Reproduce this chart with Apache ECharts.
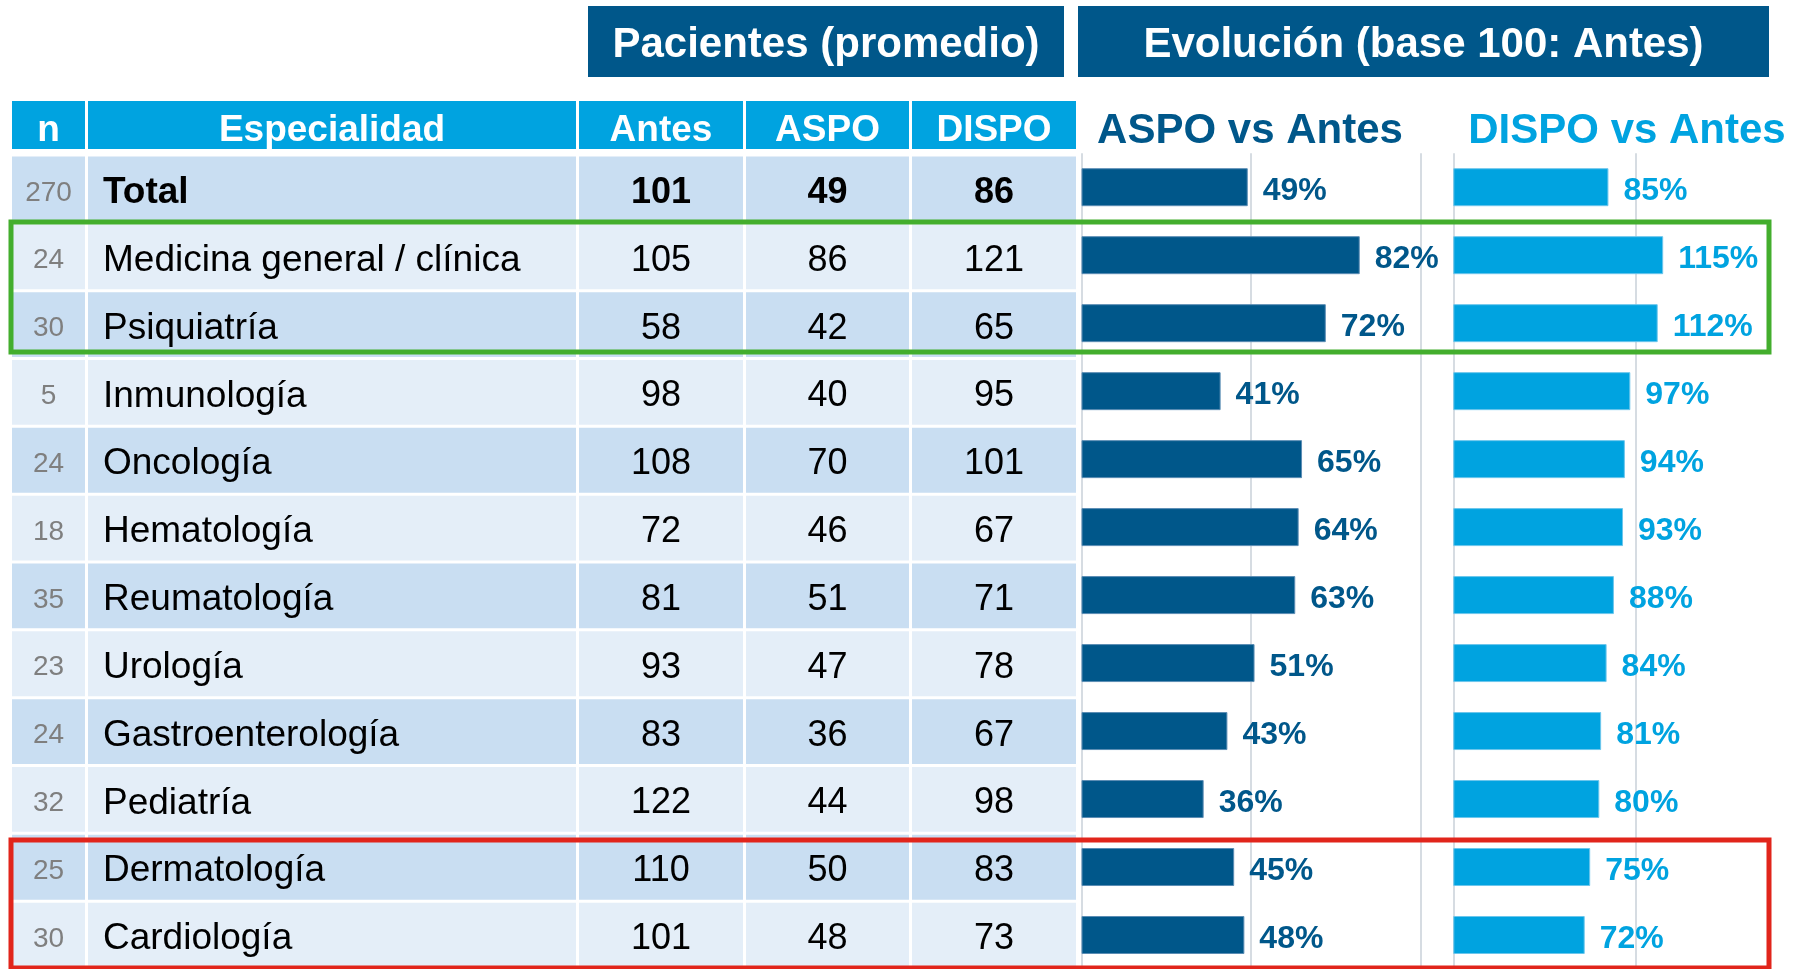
<!DOCTYPE html>
<html>
<head>
<meta charset="utf-8">
<script src="https://cdn.jsdelivr.net/npm/echarts@6.0.0/dist/echarts.min.js"></script>
<style>
html,body{margin:0;padding:0;background:#ffffff;}
#chart{width:1793px;height:969px;}
</style>
</head>
<body>
<div id="chart"></div>
<script>
// ---------- DATA ----------
const specialties = ['Total','Medicina general / clínica','Psiquiatría','Inmunología','Oncología','Hematología','Reumatología','Urología','Gastroenterología','Pediatría','Dermatología','Cardiología'];
const nValues = [270,24,30,5,24,18,35,23,24,32,25,30];
const antes = [101,105,58,98,108,72,81,93,83,122,110,101];
const aspo = [49,86,42,40,70,46,51,47,36,44,50,48];
const dispo = [86,121,65,95,101,67,71,78,67,98,83,73];
const aspoVsAntes = [49,82,72,41,65,64,63,51,43,36,45,48];
const dispoVsAntes = [85,115,112,97,94,93,88,84,81,80,75,72];
const tableHeaders = ['n','Especialidad','Antes','ASPO','DISPO'];
const groupTitles = ['Pacientes (promedio)','Evolución (base 100: Antes)'];
const barTitles = ['ASPO vs Antes','DISPO vs Antes'];

// ---------- LAYOUT / STYLE ----------
const FONT = '"Liberation Sans", Arial, sans-serif';
const COLS = [[12,85],[88,576],[579,743],[746,909],[912,1076]];
const DARK = '#00578A';
const LIGHT = '#00A3E0';
const ROW_DARK = '#C9DEF2';
const ROW_LIGHT = '#E4EEF8';
const GRID_LINE = '#D6DCE2';
const TEXT_DY = 4;

const chart = echarts.init(document.getElementById('chart'), null, {renderer:'canvas'});

function txt(text, x, y, opts){
  return {type:'text', z:10, style:Object.assign({text:text, x:x, y:y, align:'center', verticalAlign:'middle', fontFamily:FONT, fontSize:36, fill:'#000'}, opts||{})};
}

function renderRow(params, api){
  const i = api.value(1);
  const yc = api.coord([0, i])[1];
  const band = api.size([0, 1])[1];
  const h = band - 3;
  const top = yc - h / 2;
  const bg = i % 2 === 0 ? ROW_DARK : ROW_LIGHT;
  const ch = [];
  COLS.forEach(function(c){
    ch.push({type:'rect', shape:{x:c[0], y:top, width:c[1]-c[0], height:h}, style:{fill:bg}});
  });
  const bold = i === 0 ? 'bold' : 'normal';
  const mid = function(c){ return (COLS[c][0] + COLS[c][1]) / 2; };
  const ty = yc + TEXT_DY;
  ch.push(txt(String(nValues[i]), mid(0), ty, {fontSize:28, fill:'#7F7F7F'}));
  ch.push(txt(specialties[i], 103, ty, {align:'left', fontSize:37, fontWeight:bold}));
  ch.push(txt(String(antes[i]), mid(2), ty, {fontWeight:bold}));
  ch.push(txt(String(aspo[i]), mid(3), ty, {fontWeight:bold}));
  ch.push(txt(String(dispo[i]), mid(4), ty, {fontWeight:bold}));
  return {type:'group', children:ch};
}

// header graphics
const graphics = [];
graphics.push({type:'rect', shape:{x:588, y:6, width:476, height:71}, style:{fill:DARK}});
graphics.push({type:'text', style:{text:groupTitles[0], x:826, y:45.5, align:'center', verticalAlign:'middle', fontFamily:FONT, fontSize:42, fontWeight:'bold', fill:'#fff'}});
graphics.push({type:'rect', shape:{x:1078, y:6, width:691, height:71}, style:{fill:DARK}});
graphics.push({type:'text', style:{text:groupTitles[1], x:1423.5, y:45.5, align:'center', verticalAlign:'middle', fontFamily:FONT, fontSize:42, fontWeight:'bold', fill:'#fff'}});
tableHeaders.forEach(function(hd, k){
  const c = COLS[k];
  graphics.push({type:'rect', shape:{x:c[0], y:101, width:c[1]-c[0], height:48}, style:{fill:LIGHT}});
  graphics.push({type:'text', style:{text:hd, x:(c[0]+c[1])/2, y:131, align:'center', verticalAlign:'middle', fontFamily:FONT, fontSize:37, fontWeight:'bold', fill:'#fff'}});
});
graphics.push({type:'text', style:{text:barTitles[0], x:1250, y:131, align:'center', verticalAlign:'middle', fontFamily:FONT, fontSize:42, fontWeight:'bold', fill:DARK}});
graphics.push({type:'text', style:{text:barTitles[1], x:1627, y:131, align:'center', verticalAlign:'middle', fontFamily:FONT, fontSize:42, fontWeight:'bold', fill:LIGHT}});
graphics.push({type:'rect', z:100, shape:{x:11, y:222, width:1758, height:130}, style:{fill:'none', stroke:'#43AE2D', lineWidth:5}});
graphics.push({type:'rect', z:100, shape:{x:11, y:840, width:1758, height:128}, style:{fill:'none', stroke:'#E1251B', lineWidth:5}});

const hiddenCat = {type:'category', data:specialties, inverse:true, show:false};

const option = {
  animation:false,
  backgroundColor:'#ffffff',
  grid:[
    {left:0, top:155, width:1100, height:815, containLabel:false},
    {left:1081.5, top:153.2, width:339.3, height:824.4, containLabel:false},
    {left:1453.3, top:153.2, width:182.5, height:824.4, containLabel:false}
  ],
  xAxis:[
    {gridIndex:0, type:'value', min:0, max:1, show:false},
    {gridIndex:1, type:'value', min:0, max:100, interval:50,
      axisLine:{show:false}, axisTick:{show:false}, axisLabel:{show:false},
      splitLine:{show:true, lineStyle:{color:GRID_LINE, width:2}}},
    {gridIndex:2, type:'value', min:0, max:100, interval:100,
      axisLine:{show:false}, axisTick:{show:false}, axisLabel:{show:false},
      splitLine:{show:true, lineStyle:{color:GRID_LINE, width:2}}}
  ],
  yAxis:[
    Object.assign({gridIndex:0}, hiddenCat),
    Object.assign({gridIndex:1}, hiddenCat),
    Object.assign({gridIndex:2}, hiddenCat)
  ],
  series:[
    {type:'custom', xAxisIndex:0, yAxisIndex:0, renderItem:renderRow,
      encode:{x:0, y:1}, data:specialties.map(function(s, i){ return [0, i]; }), clip:false},
    {type:'bar', xAxisIndex:1, yAxisIndex:1, data:aspoVsAntes, barWidth:38, clip:false,
      itemStyle:{color:DARK, borderColor:'#5B8DB4', borderWidth:1},
      label:{show:true, position:'right', distance:15, offset:[0, 4], formatter:'{c}%', color:DARK, fontFamily:FONT, fontSize:32, fontWeight:'bold'}},
    {type:'bar', xAxisIndex:2, yAxisIndex:2, data:dispoVsAntes, barWidth:38, clip:false,
      itemStyle:{color:LIGHT, borderColor:'#6CC6EC', borderWidth:1},
      label:{show:true, position:'right', distance:15, offset:[0, 4], formatter:'{c}%', color:LIGHT, fontFamily:FONT, fontSize:32, fontWeight:'bold'}}
  ],
  graphic:graphics
};
chart.setOption(option);
</script>
</body>
</html>
